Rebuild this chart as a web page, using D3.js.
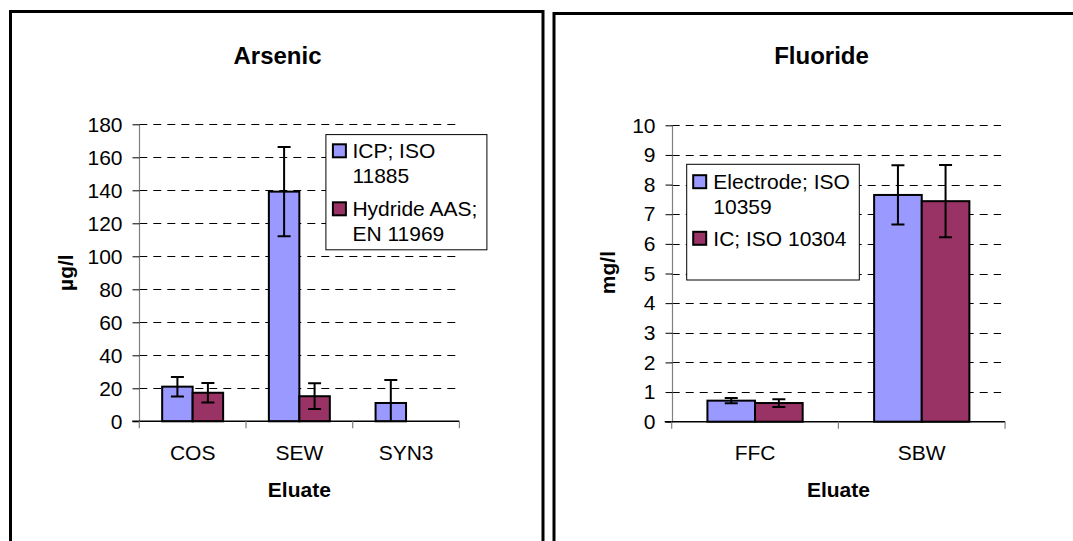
<!DOCTYPE html>
<html>
<head>
<meta charset="utf-8">
<script src="https://cdn.jsdelivr.net/npm/d3@7"></script>
<style>
  html, body { margin: 0; padding: 0; background: #fff; }
  svg { display: block; }
  text { font-family: Arial, "Liberation Sans", sans-serif; fill: #000; }
</style>
</head>
<body>
<svg id="chart" width="1073" height="541"></svg>
<script>
// ---------- DATA ----------
const arsenicCategories = ["COS", "SEW", "SYN3"];
const arsenicSeriesNames = [["ICP; ISO", "11885"], ["Hydride AAS;", "EN 11969"]];
const icpValues = [21.0, 139.2, 11.1];
const icpErrors = [5.9, 27.0, 14.0];
const hydrideValues = [17.3, 15.2, null];
const hydrideErrors = [5.9, 7.8, null];
const arsenicTicks = [0, 20, 40, 60, 80, 100, 120, 140, 160, 180];

const fluorideCategories = ["FFC", "SBW"];
const fluorideSeriesNames = [["Electrode; ISO", "10359"], ["IC; ISO 10304"]];
const electrodeValues = [0.71, 7.65];
const electrodeErrors = [0.09, 1.0];
const icValues = [0.63, 7.44];
const icErrors = [0.13, 1.22];
const fluorideTicks = [0, 1, 2, 3, 4, 5, 6, 7, 8, 9, 10];

const seriesColors = ["#9999FF", "#993366"];

// ---------- DRAWING ----------
const svg = d3.select("#chart");
const FONT = 21;

// panel frames
svg.append("path")
  .attr("d", "M10.5,541 L10.5,11.5 L543,11.5 L543,541")
  .attr("fill", "none").attr("stroke", "#000").attr("stroke-width", 3);
svg.append("path")
  .attr("d", "M554,541 L554,13.5 L1073,13.5")
  .attr("fill", "none").attr("stroke", "#000").attr("stroke-width", 3);

function drawPanel(cfg) {
  const g = svg.append("g");
  const y = d3.scaleLinear().domain([cfg.ticks[0], cfg.ticks[cfg.ticks.length - 1]])
    .range([cfg.y0, cfg.y1]);
  const x = d3.scaleBand().domain(cfg.categories).range([cfg.x0, cfg.x1]).padding(0);
  const xs = d3.scaleBand().domain(d3.range(cfg.series.length))
    .range([0, x.bandwidth()]).paddingInner(0).paddingOuter(0.75);

  // gridlines (dashed)
  g.append("g").selectAll("line").data(cfg.ticks.filter(t => t !== 0)).join("line")
    .attr("x1", cfg.x0).attr("x2", cfg.x1 - 4)
    .attr("y1", d => Math.round(y(d)) + 0.5).attr("y2", d => Math.round(y(d)) + 0.5)
    .attr("stroke", "#000").attr("stroke-width", 1).attr("stroke-dasharray", "8,6");

  // y axis
  const yAxis = d3.axisLeft(y).tickValues(cfg.ticks).tickSize(7).tickPadding(10)
    .tickFormat(d3.format("d"));
  const ya = g.append("g").attr("transform", `translate(${Math.round(cfg.x0) + 0.5},0)`).call(yAxis);
  ya.select(".domain").attr("stroke", "#808080").attr("stroke-width", 1.2)
    .attr("d", `M0,${cfg.y1}V${cfg.y0}`);
  ya.selectAll(".tick line").attr("stroke", "#000");
  ya.selectAll(".tick text").style("font-size", FONT + "px")
    .style("font-family", "Arial, 'Liberation Sans', sans-serif").attr("fill", "#000");

  // bars
  const clipId = "clip-" + cfg.id;
  svg.append("defs").append("clipPath").attr("id", clipId)
    .append("rect").attr("x", cfg.x0).attr("y", cfg.y1 - 20)
    .attr("width", cfg.x1 - cfg.x0).attr("height", cfg.y0 - cfg.y1 + 20);

  const barG = g.append("g");
  const errG = g.append("g").attr("clip-path", `url(#${clipId})`);
  cfg.series.forEach((s, si) => {
    cfg.categories.forEach((c, ci) => {
      const v = s.values[ci];
      if (v == null) return;
      const bx = x(c) + xs(si);
      const bw = xs.bandwidth();
      barG.append("rect")
        .attr("x", bx).attr("y", y(v))
        .attr("width", bw).attr("height", y(0) - y(v))
        .attr("fill", seriesColors[si]).attr("stroke", "#000").attr("stroke-width", 2);
      const e = s.errors[ci];
      if (e == null) return;
      const cx = bx + bw / 2;
      const hi = y(v + e), lo = y(v - e);
      errG.append("line").attr("x1", cx).attr("x2", cx).attr("y1", hi).attr("y2", lo)
        .attr("stroke", "#000").attr("stroke-width", 2);
      [hi, lo].forEach(yy => {
        errG.append("line").attr("x1", cx - 6.5).attr("x2", cx + 6.5).attr("y1", yy).attr("y2", yy)
          .attr("stroke", "#000").attr("stroke-width", 2);
      });
    });
  });

  // x axis line and boundary ticks
  const bounds = cfg.categories.map(c => x(c)).concat([cfg.x1]);
  g.append("line").attr("x1", cfg.x0 - 7).attr("x2", cfg.x1)
    .attr("y1", y(0)).attr("y2", y(0)).attr("stroke", "#000").attr("stroke-width", 1.5);
  g.append("g").selectAll("line").data(bounds).join("line")
    .attr("x1", d => d).attr("x2", d => d)
    .attr("y1", y(0)).attr("y2", y(0) + 7)
    .attr("stroke", "#808080").attr("stroke-width", 1.2);

  // category labels
  const xAxis = d3.axisBottom(x).tickSize(0).tickPadding(0);
  const xa = g.append("g").attr("transform", `translate(0,${cfg.labelY})`).call(xAxis);
  xa.select(".domain").remove();
  xa.selectAll(".tick text").attr("dy", "0.35em").attr("y", 0)
    .style("font-size", FONT + "px")
    .style("font-family", "Arial, 'Liberation Sans', sans-serif").attr("fill", "#000");

  // titles
  g.append("text").attr("x", cfg.titleX).attr("y", cfg.titleY).attr("dy", "0.35em")
    .attr("text-anchor", "middle").style("font-size", "24px").style("font-weight", "bold")
    .text(cfg.title);
  g.append("text").attr("x", (cfg.x0 + cfg.x1) / 2).attr("y", cfg.xTitleY).attr("dy", "0.35em")
    .attr("text-anchor", "middle").style("font-size", FONT + "px").style("font-weight", "bold")
    .text("Eluate");
  g.append("text").attr("transform", `translate(${cfg.yTitleX},${cfg.yTitleY}) rotate(-90)`)
    .attr("dy", "0.35em").attr("text-anchor", "middle")
    .style("font-size", FONT + "px").style("font-weight", "bold")
    .text(cfg.yTitle);

  // legend
  const L = cfg.legend;
  const lg = g.append("g");
  lg.append("rect").attr("x", L.x).attr("y", L.y).attr("width", L.w).attr("height", L.h)
    .attr("fill", "#fff").attr("stroke", "#000").attr("stroke-width", 1);
  let lineIdx = 0;
  cfg.series.forEach((s, si) => {
    const cy = L.lineYs[lineIdx];
    lg.append("rect").attr("x", L.x + L.swx).attr("y", cy - 6.5)
      .attr("width", 13).attr("height", 13)
      .attr("fill", seriesColors[si]).attr("stroke", "#000").attr("stroke-width", 2);
    s.name.forEach(line => {
      lg.append("text").attr("x", L.x + L.tx).attr("y", L.lineYs[lineIdx]).attr("dy", "0.35em")
        .style("font-size", FONT + "px").text(line);
      lineIdx++;
    });
  });
}

drawPanel({
  id: "as",
  categories: arsenicCategories,
  ticks: arsenicTicks,
  series: [
    { name: arsenicSeriesNames[0], values: icpValues, errors: icpErrors },
    { name: arsenicSeriesNames[1], values: hydrideValues, errors: hydrideErrors }
  ],
  x0: 139.3, x1: 459.4, y0: 421.3, y1: 124.3,
  labelY: 452.7, xTitleY: 490,
  title: "Arsenic", titleX: 277.5, titleY: 55.5,
  yTitle: "µg/l", yTitleX: 66, yTitleY: 272.6,
  legend: { x: 325.9, y: 134.6, w: 161, h: 115.2, swx: 7, tx: 26.5,
            lineYs: [150.8, 176, 208.8, 234] }
});

drawPanel({
  id: "fl",
  categories: fluorideCategories,
  ticks: fluorideTicks,
  series: [
    { name: fluorideSeriesNames[0], values: electrodeValues, errors: electrodeErrors },
    { name: fluorideSeriesNames[1], values: icValues, errors: icErrors }
  ],
  x0: 671.7, x1: 1005.1, y0: 421.7, y1: 125.3,
  labelY: 452.7, xTitleY: 490,
  title: "Fluoride", titleX: 821.5, titleY: 55.5,
  yTitle: "mg/l", yTitleX: 608, yTitleY: 272.6,
  legend: { x: 686.7, y: 164.3, w: 172.6, h: 115.7, swx: 6.5, tx: 26.6,
            lineYs: [181.7, 206.7, 238.3] }
});
</script>
</body>
</html>
